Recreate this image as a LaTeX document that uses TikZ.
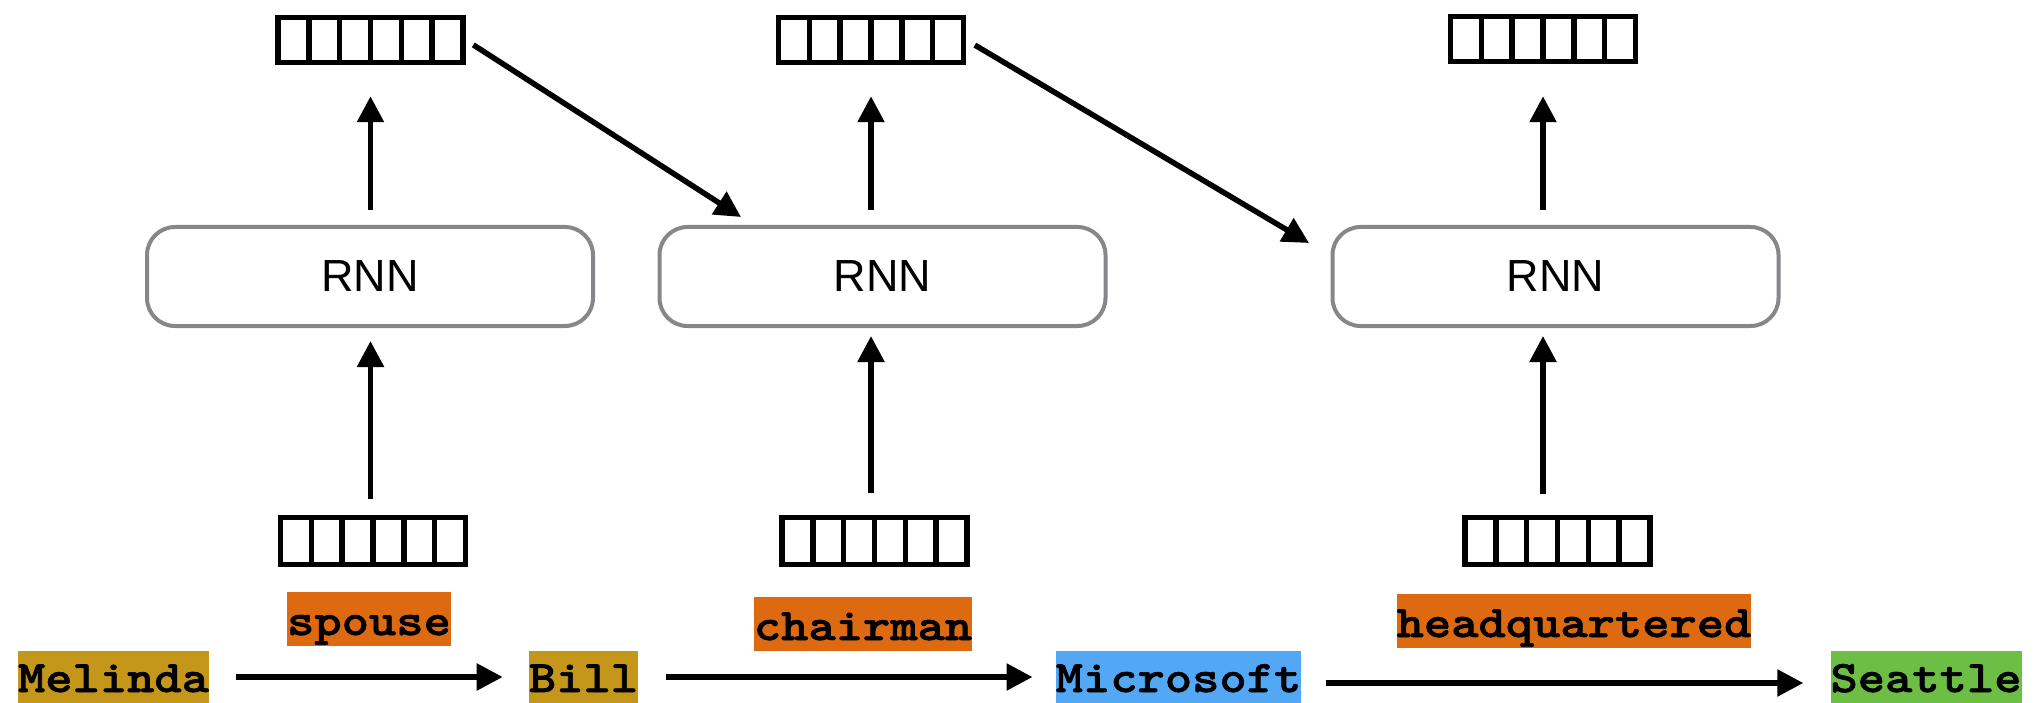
\documentclass[tikz,border=0pt]{standalone}
\usepackage{fontspec}
\setmainfont{Liberation Sans}
\newfontfamily\courfont{lmmonolt10-bold.otf}[FakeStretch=1.155, FakeBold=1.5]
\usetikzlibrary{arrows.meta,calc}
\definecolor{gold}{HTML}{C4961A}
\definecolor{rel}{HTML}{DD6A10}
\definecolor{msblue}{HTML}{52A8F5}
\definecolor{seagreen}{HTML}{6DBE45}
\definecolor{rnngray}{HTML}{87878B}
\begin{document}
\begin{tikzpicture}[x=1pt,y=-1pt,
  vec/.style={draw, line width=5.5pt, minimum width=185pt, minimum height=45pt, inner sep=0pt,
    path picture={\foreach \i in {1,...,5}{\draw[line width=5.5pt]
      ($(path picture bounding box.north west)!\i/6!(path picture bounding box.north east)$) --
      ($(path picture bounding box.south west)!\i/6!(path picture bounding box.south east)$);}}},
  rnn/.style={draw=rnngray, line width=4pt, rounded corners=28pt, minimum width=446pt,
    minimum height=99pt, inner sep=0pt, fill=white, font=\fontsize{45}{54}\selectfont},
  lab/.style={inner sep=0pt, font=\fontsize{45}{50}\selectfont\courfont, text depth=11pt},
  arr/.style={line width=5.5pt, -{Triangle[length=26pt,width=26pt]}}
]
\useasboundingbox (0,0) rectangle (2042,703);

% top vectors
\node[vec] (tv1) at (370.5,40) {};
\node[vec] (tv2) at (871,40) {};
\node[vec] (tv3) at (1543,39) {};
% RNN boxes
\node[rnn] (rnn1) at (370,276.5) {RNN};
\node[rnn] (rnn2) at (882.5,276.5) {RNN};
\node[rnn] (rnn3) at (1555.5,276.5) {RNN};
% bottom vectors
\node[vec, minimum height=47pt] (bv1) at (373,541) {};
\node[vec, minimum height=47pt] (bv2) at (874.5,541) {};
\node[vec, minimum height=47pt] (bv3) at (1557.5,541) {};

% vertical arrows
\draw[arr, shorten <=16pt, shorten >=13pt] (bv1.north -| tv1) -- (rnn1.south -| tv1);
\draw[arr, shorten <=22pt, shorten >=8pt] (bv2.north -| tv2) -- (rnn2.south -| tv2);
\draw[arr, shorten <=21pt, shorten >=8pt] (bv3.north -| tv3) -- (rnn3.south -| tv3);
\draw[arr, shorten <=15pt, shorten >=31pt] (rnn1.north -| tv1) -- (tv1.south);
\draw[arr, shorten <=15pt, shorten >=31pt] (rnn2.north -| tv2) -- (tv2.south);
\draw[arr, shorten <=15pt, shorten >=32pt] (rnn3.north -| tv3) -- (tv3.south);

% diagonal arrows
\coordinate (d1) at (741,217);
\coordinate (d2) at (1309,243);
\draw[arr, shorten <=9pt] (tv1.east) -- (d1);
\draw[arr, shorten <=10pt] (tv2.east) -- (d2);

% entity and relation labels
\node[lab, fill=gold, minimum width=191pt, text height=41pt] (melinda) at (113.5,677) {Melinda};
\node[lab, fill=rel, minimum width=164pt, text height=43pt] (spouse) at (369,619) {spouse};
\node[lab, fill=gold, minimum width=107pt, text height=41pt] (bill) at (583.5,677) {Bill};
\node[lab, fill=rel, minimum width=218pt, text height=43pt] (chairman) at (863,624) {chairman};
\node[lab, fill=msblue, minimum width=245pt, text height=41pt] (microsoft) at (1178.5,677) {Microsoft};
\node[lab, fill=rel, minimum width=354pt, text height=43pt] (hq) at (1574,621) {headquartered};
\node[lab, fill=seagreen, minimum width=191pt, text height=41pt] (seattle) at (1926,677) {Seattle};

% horizontal arrows
\draw[arr, shorten <=27pt, shorten >=26pt] (melinda.east) -- (bill.west);
\draw[arr, shorten <=28pt, shorten >=23pt] (bill.east) -- (microsoft.west);
\draw[arr, shorten <=24pt, shorten >=27pt] ([yshift=-6pt]microsoft.east) -- ([yshift=-6pt]seattle.west);
\end{tikzpicture}
\end{document}
